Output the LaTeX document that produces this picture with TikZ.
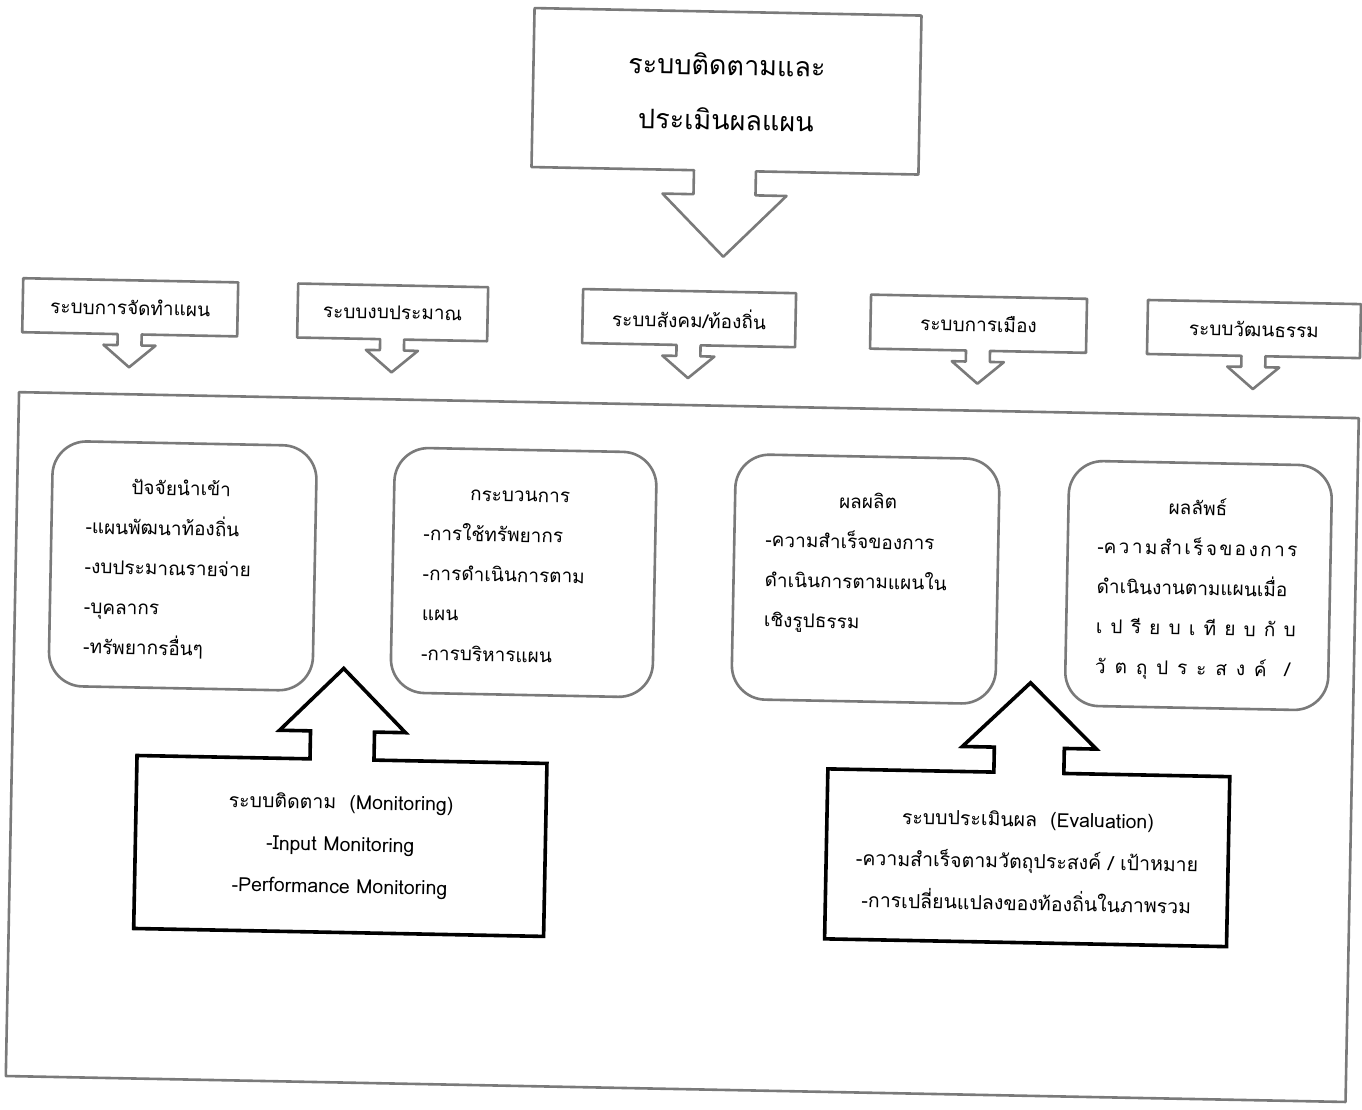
\documentclass[tikz,border=0pt]{standalone}
\usepackage{fontspec}
\setmainfont{Loma}[Script=Thai]
\tikzset{
  scanline/.style={draw=black!52, line width=2.6pt, fill=white, line join=round},
  inkline/.style={draw=black, line width=3.6pt, fill=white, line join=miter},
  roundbox/.style={scanline, rounded corners=34pt, inner sep=0pt},
  lbl/.style={inner sep=0pt, text=black, font=\fontsize{19}{40}\selectfont},
  biglbl/.style={inner sep=0pt, text=black, font=\fontsize{27}{55}\selectfont, align=center},
  bodylbl/.style={lbl, align=left, anchor=north west},
  midlbl/.style={inner sep=0pt, text=black, font=\fontsize{19.5}{42}\selectfont, align=center},
}
\newcommand{\spreadline}[2]{{\spaceskip=0pt plus 1fil\relax\makebox[#1][s]{#2}}}
\newcommand{\downcall}[9]{%
  \draw[#9] (#1,#2) -- (#3,#2) -- (#3,#4)
   -- ({(#1+#3)/2+#5},#4) -- ({(#1+#3)/2+#5},#7) -- ({(#1+#3)/2+#6},#7)
   -- ({(#1+#3)/2},#8) -- ({(#1+#3)/2-#6},#7) -- ({(#1+#3)/2-#5},#7)
   -- ({(#1+#3)/2-#5},#4) -- (#1,#4) -- cycle;}
\newcommand{\upcall}[9]{%
  \draw[#9] (#1,#4) -- (#1,#2) -- ({(#1+#3)/2-#5},#2) -- ({(#1+#3)/2-#5},#7)
   -- ({(#1+#3)/2-#6},#7) -- ({(#1+#3)/2},#8) -- ({(#1+#3)/2+#6},#7)
   -- ({(#1+#3)/2+#5},#7) -- ({(#1+#3)/2+#5},#2) -- (#3,#2) -- (#3,#4) -- cycle;}
\begin{document}
\begin{tikzpicture}[x=1pt,y=-1pt]
\useasboundingbox[fill=white] (0,0) rectangle (1362,1110);
\begin{scope}[rotate around={-1.11:(681,555)}, transform shape]
  % outer frame
  \node[scanline, minimum width=1340pt, minimum height=684pt, inner sep=0pt] (frame) at (686,747) {};
  % top callout
  \downcall{524}{11}{911}{170}{31}{62}{194}{256}{scanline}
  \node[biglbl] (title) at (717.5,91) {ระบบติดตามและ\\ประเมินผลแผน};
  % five system callouts
  \downcall{18}{291}{233}{345}{12}{26}{356}{378}{scanline}
  \node[lbl] (splan) at (125.5,318) {ระบบการจัดทำแผน};
  \downcall{293}{291}{483}{345}{12}{26}{356}{378}{scanline}
  \node[lbl] (sbudget) at (388,318) {ระบบงบประมาณ};
  \downcall{578}{291}{791}{345}{12}{26}{356}{378}{scanline}
  \node[lbl] (ssocial) at (684.5,318) {ระบบสังคม/ท้องถิ่น};
  \downcall{866}{291}{1082}{345}{12}{26}{356}{378}{scanline}
  \node[lbl] (spolitic) at (974,318) {ระบบการเมือง};
  \downcall{1143}{291}{1356}{345}{12}{26}{356}{378}{scanline}
  \node[lbl] (sculture) at (1249.5,318) {ระบบวัฒนธรรม};
  % rounded boxes
  \node[roundbox, minimum width=264pt, minimum height=245pt] (inbox) at (183,575.5) {};
  \node[roundbox, minimum width=262pt, minimum height=245pt] (procbox) at (524,575.5) {};
  \node[roundbox, minimum width=264pt, minimum height=245pt] (outbox) at (866,575.5) {};
  \node[roundbox, minimum width=263pt, minimum height=245pt] (resbox) at (1199,575.5) {};
  \node[lbl, anchor=base] (inT) at (180,505) {ปัจจัยนำเข้า};
  \node[bodylbl] (inB) at (85,517) {\strut-แผนพัฒนาท้องถิ่น\\-งบประมาณรายจ่าย\\-บุคลากร\\-ทรัพยากรอื่นๆ};
  \node[lbl, anchor=base] (procT) at (519,505) {กระบวนการ};
  \node[bodylbl] (procB) at (423,517) {\strut-การใช้ทรัพยากร\\-การดำเนินการตาม\\แผน\\-การบริหารแผน};
  \node[lbl, anchor=base] (outT) at (867,505) {ผลผลิต};
  \node[bodylbl] (outB) at (765,517) {\strut-ความสำเร็จของการ\\ดำเนินการตามแผนใน\\เชิงรูปธรรม};
  \node[lbl, anchor=base] (resT) at (1197,505) {ผลลัพธ์};
  \node[bodylbl] (resB) at (1097,517) {\strut\spreadline{200pt}{-ค ว า ม สำ เ ร็ จ ข อ ง ก า ร}\\ดำเนินงานตามแผนเมื่อ\\\spreadline{200pt}{เ ป รี ย บ เ ที ย บ กั บ}\\\spreadline{195pt}{วั ต ถุ ป ร ะ ส ง ค์ \ /}};
  % monitoring and evaluation callouts
  \upcall{141}{766}{551}{939}{32}{63}{738}{675}{inkline}
  \node[midlbl] (mon) at (346,852) {ระบบติดตาม~~(Monitoring)\\-Input Monitoring\\-Performance Monitoring};
  \upcall{832}{766}{1234}{936}{35}{67}{741}{676}{inkline}
  \node[midlbl] (eval) at (1033,854) {ระบบประเมินผล~~(Evaluation)\\-ความสำเร็จตามวัตถุประสงค์ / เป้าหมาย\\-การเปลี่ยนแปลงของท้องถิ่นในภาพรวม};
\end{scope}
\end{tikzpicture}
\end{document}
